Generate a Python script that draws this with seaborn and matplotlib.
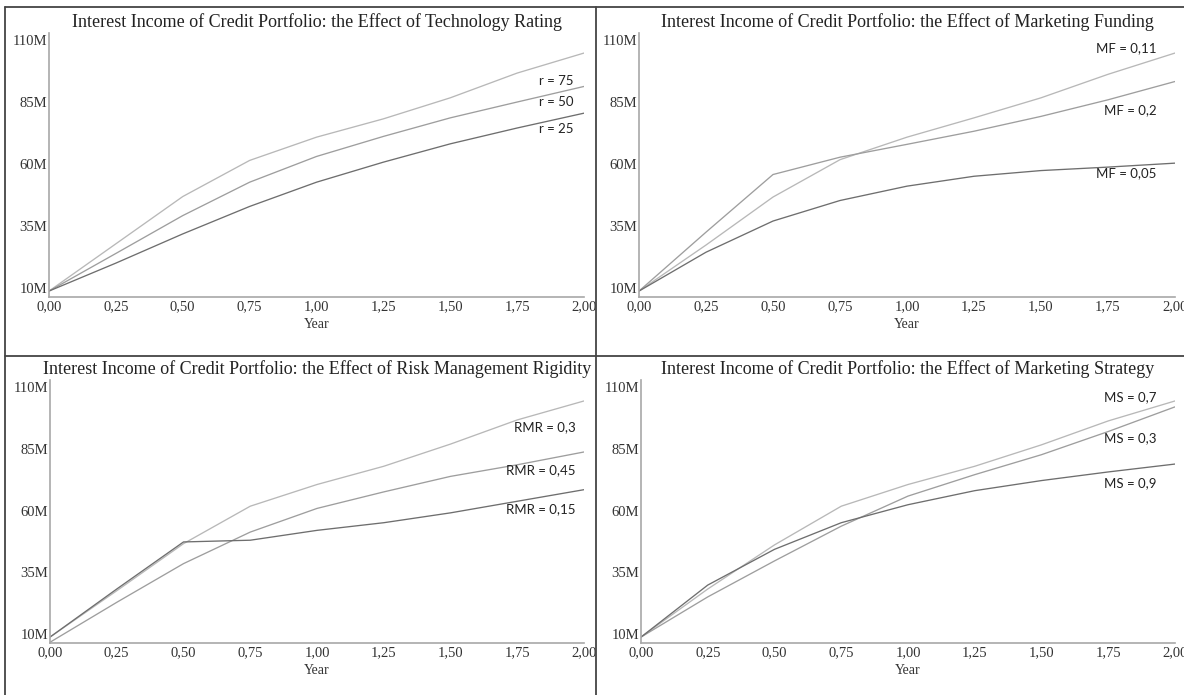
import numpy as np
import pandas as pd
import matplotlib
matplotlib.use("Agg")
import matplotlib.pyplot as plt
import seaborn as sns
from matplotlib.lines import Line2D

# Data (values in millions)
years = [0.0, 0.25, 0.5, 0.75, 1.0, 1.25, 1.5, 1.75, 2.0]

tech_r75 = [8.7, 27.8, 46.9, 61.5, 70.9, 78.3, 86.8, 96.8, 104.9]
tech_r50 = [8.7, 23.9, 39.2, 52.7, 63.1, 71.2, 78.7, 85.1, 91.4]
tech_r25 = [8.7, 20.0, 31.8, 42.9, 52.7, 60.8, 68.2, 74.6, 80.6]

mf_011 = [8.7, 27.3, 46.7, 61.8, 70.9, 78.7, 86.8, 96.3, 104.9]
mf_02 = [8.7, 32.5, 55.8, 62.8, 68.0, 73.3, 79.3, 86.0, 93.4]
mf_005 = [8.7, 24.4, 37.0, 45.3, 51.1, 55.1, 57.4, 58.8, 60.4]

rmr_03 = [8.7, 27.5, 46.6, 61.8, 70.6, 78.0, 87.0, 96.8, 104.5]
rmr_045 = [6.6, 22.8, 38.5, 51.3, 60.9, 67.6, 73.9, 78.6, 83.8]
rmr_015 = [8.7, 28.2, 47.3, 48.0, 52.0, 55.1, 59.1, 63.8, 68.5]

ms_07 = [8.7, 28.2, 46.1, 61.8, 70.6, 78.0, 86.7, 96.4, 104.5]
ms_03 = [8.7, 25.0, 39.6, 53.7, 65.9, 74.6, 82.7, 92.1, 102.1]
ms_09 = [8.7, 29.8, 44.3, 55.1, 62.4, 68.1, 72.2, 75.7, 78.9]

titles = [
    "Interest Income of Credit Portfolio: the Effect of Technology Rating",
    "Interest Income of Credit Portfolio: the Effect of Marketing Funding",
    "Interest Income of Credit Portfolio: the Effect of Risk Management Rigidity",
    "Interest Income of Credit Portfolio: the Effect of Marketing Strategy",
]
series = [
    [tech_r75, tech_r50, tech_r25],
    [mf_011, mf_02, mf_005],
    [rmr_03, rmr_045, rmr_015],
    [ms_07, ms_03, ms_09],
]
labels = [
    ["r = 75", "r = 50", "r = 25"],
    ["MF = 0,11", "MF = 0,2", "MF = 0,05"],
    ["RMR = 0,3", "RMR = 0,45", "RMR = 0,15"],
    ["MS = 0,7", "MS = 0,3", "MS = 0,9"],
]
label_y = [
    [93.4, 85.3, 74.0],
    [106.8, 82.0, 56.2],
    [93.8, 76.4, 60.6],
    [106.0, 89.4, 71.1],
]
label_x = [1.96, 1.93, 1.97, 1.93]

y_ticks = [10, 35, 60, 85, 110]
x_ticks = years

colors = ["#b8b8b8", "#9e9e9e", "#6e6e6e"]

sns.set_style("white")
plt.rcParams["font.family"] = ["Liberation Serif", "DejaVu Serif"]

W, H = 1184, 695
fig = plt.figure(figsize=(W / 100, H / 100), dpi=100)

# axes boxes in pixels: left, right, top, bottom
boxes = [(49, 584, 33, 297), (639, 1175, 33, 297),
         (50, 584, 380, 643), (641, 1175, 380, 643)]

for i, (l, r, t, b) in enumerate(boxes):
    ax = fig.add_axes([l / W, 1 - b / H, (r - l) / W, (b - t) / H])
    for vals, c in zip(series[i], colors):
        sns.lineplot(x=years, y=vals, color=c, linewidth=0.95, ax=ax)
    ax.set_xlim(0, 2)
    ax.set_ylim(6.3, 113)
    ax.set_yticks(y_ticks)
    ax.set_yticklabels([f"{v}M" for v in y_ticks])
    ax.set_xticks(x_ticks)
    ax.set_xticklabels([f"{v:.2f}".replace(".", ",") for v in x_ticks])
    ax.tick_params(length=0, labelsize=10.5, pad=2, colors="#333333")
    ax.tick_params(axis="y", pad=1.5)
    ax.set_xlabel("Year", fontsize=10, color="#333333", labelpad=4)
    ax.set_title(titles[i], fontsize=13, color="#222222", pad=4)
    for s in ["top", "right"]:
        ax.spines[s].set_visible(False)
    for s in ["left", "bottom"]:
        ax.spines[s].set_color("#a8a8a8")
        ax.spines[s].set_linewidth(1.2)
    for txt, yv in zip(labels[i], label_y[i]):
        ax.text(label_x[i], yv, txt, ha="right", va="center", fontsize=9.5,
                family=["Lato", "DejaVu Sans"], color="#222222")
    ax.patch.set_alpha(0)

# panel frame lines
lc = "#444444"
fig.add_artist(Line2D([5 / W, 5 / W], [0, 1 - 7 / H], color=lc, lw=1.3))
fig.add_artist(Line2D([5 / W, 1], [1 - 7 / H, 1 - 7 / H], color=lc, lw=1.3))
fig.add_artist(Line2D([596 / W, 596 / W], [0, 1 - 7 / H], color=lc, lw=1.3))
fig.add_artist(Line2D([5 / W, 1], [1 - 356 / H, 1 - 356 / H], color=lc, lw=1.3))

fig.savefig("out.png", dpi=100)
